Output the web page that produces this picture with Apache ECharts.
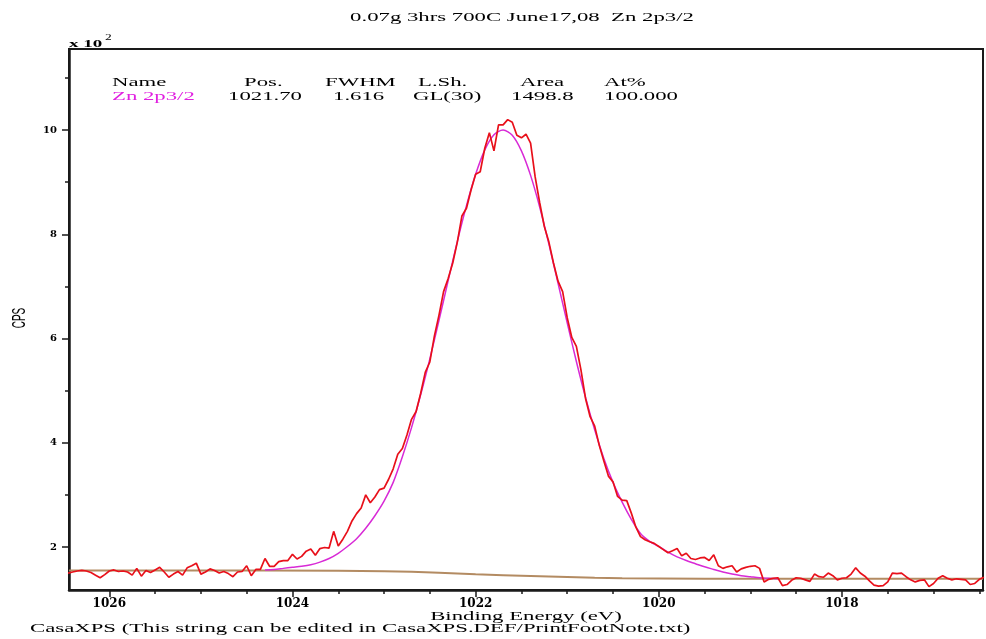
<!DOCTYPE html>
<html><head><meta charset="utf-8">
<script src="https://cdn.jsdelivr.net/npm/echarts@6/dist/echarts.min.js"></script>
<style>html,body{margin:0;padding:0;background:#fff}#c{width:986px;height:639px}</style>
</head><body><div id="c"></div>
<script>
// ---- data ----
const energyStart = 1026.45, energyStep = 0.05;   // acquisition grid (eV), high -> low
const rawCounts = [
1.50,1.52,1.54,1.55,1.54,1.51,1.46,1.41,1.47,1.54,
1.56,1.53,1.54,1.52,1.46,1.59,1.44,1.55,1.51,1.56,
1.61,1.52,1.42,1.48,1.53,1.46,1.60,1.64,1.69,1.48,
1.52,1.58,1.55,1.50,1.53,1.49,1.43,1.52,1.53,1.64,
1.45,1.57,1.57,1.78,1.63,1.63,1.72,1.74,1.74,1.86,
1.77,1.82,1.92,1.96,1.84,1.97,1.99,1.98,2.30,2.02,
2.15,2.30,2.50,2.64,2.75,3.00,2.85,2.96,3.10,3.13,
3.30,3.50,3.78,3.89,4.15,4.45,4.60,4.95,5.35,5.55,
6.05,6.45,6.90,7.15,7.45,7.85,8.35,8.50,8.85,9.15,
9.20,9.65,9.95,9.60,10.10,10.10,10.20,10.15,9.90,9.85,
9.92,9.75,9.10,8.60,8.15,7.85,7.45,7.10,6.90,6.40,
6.02,5.85,5.40,4.85,4.50,4.32,3.95,3.65,3.36,3.25,
2.97,2.90,2.89,2.65,2.38,2.20,2.14,2.10,2.07,2.01,
1.95,1.89,1.93,1.97,1.83,1.88,1.78,1.76,1.79,1.80,
1.74,1.85,1.64,1.59,1.62,1.64,1.52,1.58,1.61,1.63,
1.64,1.59,1.33,1.38,1.40,1.41,1.26,1.28,1.36,1.41,
1.40,1.37,1.34,1.48,1.43,1.42,1.50,1.45,1.37,1.40,
1.41,1.48,1.60,1.50,1.44,1.35,1.27,1.25,1.26,1.33,
1.50,1.49,1.50,1.43,1.37,1.33,1.36,1.37,1.24,1.30,
1.40,1.45,1.40,1.37,1.39,1.38,1.37,1.28,1.30,1.38,
1.42];
const fitStart = 1024.3, fitStep = 0.1;
const fitEnvelope = [
1.56,1.57,1.59,1.61,1.63,1.66,1.71,1.78,1.88,2.01,
2.16,2.36,2.60,2.88,3.24,3.73,4.29,4.92,5.61,6.35,
7.11,7.86,8.55,9.15,9.62,9.91,10.00,9.90,9.60,9.13,
8.52,7.81,7.06,6.30,5.56,4.87,4.25,3.70,3.24,2.86,
2.53,2.26,2.11,2.01,1.90,1.81,1.74,1.68,1.62,1.57,
1.52,1.48,1.45,1.43,1.41,1.40,1.39];
const bgEnergy = [1026.44,1024.3,1023.5,1023.0,1022.7,1022.4,1022.2,1022.0,1021.7,1021.4,1021.2,1021.0,1020.7,1020.4,1020.0,1019.5,1016.46];
const bgCounts = [1.55,1.55,1.545,1.535,1.525,1.505,1.49,1.475,1.46,1.445,1.435,1.425,1.41,1.40,1.395,1.39,1.39];
const xMajorTicks = [1026,1024,1022,1020,1018];
const xMinorTicks = [1025.5,1025,1024.5,1023.5,1023,1022.5,1021.5,1021,1020.5,1019.5,1019,1018.5,1017.5,1017,1016.5];
const yMajorTicks = [2,4,6,8,10];
const yMinorTicks = [3,5,7,9,11];
const tableHeader = ['Name','Pos.','FWHM','L.Sh.','Area','At%'];
const tableRow = ['Zn 2p3/2','1021.70','1.616','GL(30)','1498.8','100.000'];

// ---- build ----
const rawData = rawCounts.map((v,i)=>[+(energyStart - i*energyStep).toFixed(2), v]);
const fitData = fitEnvelope.map((v,i)=>[+(fitStart - i*fitStep).toFixed(2), v]);
const bgData = bgEnergy.map((e,i)=>[e, bgCounts[i]]);

const X_MIN = 1016.46, X_MAX = 1026.44, Y_MIN = 1.175, Y_MAX = 11.555;
const AX = '#1a1a1a';
const SERIF = "'Liberation Serif'";
const SX = 1.75;

function txt(x, y, s, opt) {
  opt = opt || {};
  return {
    type: 'text', x: x, y: y, scaleX: opt.sx || SX, scaleY: opt.sy || 1, rotation: opt.rot || 0,
    silent: true, z: 100,
    style: {
      text: s, fill: opt.fill || '#000',
      font: (opt.weight || 'normal') + ' ' + (opt.size || 13) + 'px ' + (opt.family || SERIF),
      align: opt.align || 'left', textAlign: opt.align || 'left',
      verticalAlign: 'middle', textVerticalAlign: 'middle'
    }
  };
}

const headX = [112, 244, 325, 418, 520, 604];
const rowX  = [112, 228, 333, 413, 511, 604];
const graphics = [
  txt(522, 18, '0.07g 3hrs 700C June17,08  Zn 2p3/2', {align:'center'}),
  txt(526, 617, 'Binding Energy (eV)', {align:'center'}),
  txt(30, 629, 'CasaXPS (This string can be edited in CasaXPS.DEF/PrintFootNote.txt)'),
  txt(69, 44, 'x 10', {size:10, weight:'bold', sx:1.9}),
  txt(105, 38, '2', {size:9, sx:1.5}),
  txt(20, 318, 'CPS', {align:'center', size:10, sx:1, sy:1.75, rot:Math.PI/2, family:"'Liberation Sans'"})
];
tableHeader.forEach((h,i)=>graphics.push(txt(headX[i], 83, h)));
tableRow.forEach((h,i)=>graphics.push(txt(rowX[i], 97, h, {fill: i===0 ? '#e020e0' : '#000'})));

const plain = v => String(v);
const chart = echarts.init(document.getElementById('c'));
chart.setOption({
  animation: false,
  backgroundColor: '#fff',
  grid: {left: 69, right: 3, top: 49, bottom: 49, show: true, borderColor: AX, borderWidth: 2, backgroundColor: 'transparent'},
  xAxis: [
    {type:'value', min:X_MIN, max:X_MAX, inverse:true, position:'bottom',
     axisLine:{show:true, onZero:false, lineStyle:{color:AX, width:2.5}},
     axisTick:{show:true, customValues:xMajorTicks, length:7, lineStyle:{color:AX, width:1.5}},
     axisLabel:{show:true, customValues:xMajorTicks, formatter:plain, margin:8, color:'#000', fontFamily:"'DejaVu Serif'", fontWeight:'bold', fontSize:12},
     splitLine:{show:false}},
    {type:'value', min:X_MIN, max:X_MAX, inverse:true, position:'bottom',
     axisLine:{show:false, onZero:false},
     axisTick:{show:true, customValues:xMinorTicks, length:4, lineStyle:{color:AX, width:1.5}},
     axisLabel:{show:false}, splitLine:{show:false}}
  ],
  yAxis: [
    {type:'value', min:Y_MIN, max:Y_MAX, position:'left',
     axisLine:{show:true, onZero:false, lineStyle:{color:AX, width:2.5}},
     axisTick:{show:true, customValues:yMajorTicks, length:7, lineStyle:{color:AX, width:1.5}},
     axisLabel:{show:true, customValues:yMajorTicks, formatter:plain, margin:12, color:'#000', fontFamily:"'DejaVu Serif'", fontWeight:'bold', fontSize:10},
     splitLine:{show:false}},
    {type:'value', min:Y_MIN, max:Y_MAX, position:'left',
     axisLine:{show:false, onZero:false},
     axisTick:{show:true, customValues:yMinorTicks, length:4, lineStyle:{color:AX, width:1.5}},
     axisLabel:{show:false}, splitLine:{show:false}}
  ],
  series: [
    {type:'line', name:'Background', data:bgData, showSymbol:false, symbol:'none', z:2,
     lineStyle:{color:'#b38b62', width:2}},
    {type:'line', name:'Zn 2p3/2 envelope', data:fitData, showSymbol:false, symbol:'none', smooth:0.3, z:3,
     lineStyle:{color:'#d82ad6', width:1.5}},
    {type:'line', name:'Raw', data:rawData, showSymbol:false, symbol:'none', z:4,
     lineStyle:{color:'#e8101a', width:1.7}}
  ],
  graphic: graphics
});
</script>
</body></html>
